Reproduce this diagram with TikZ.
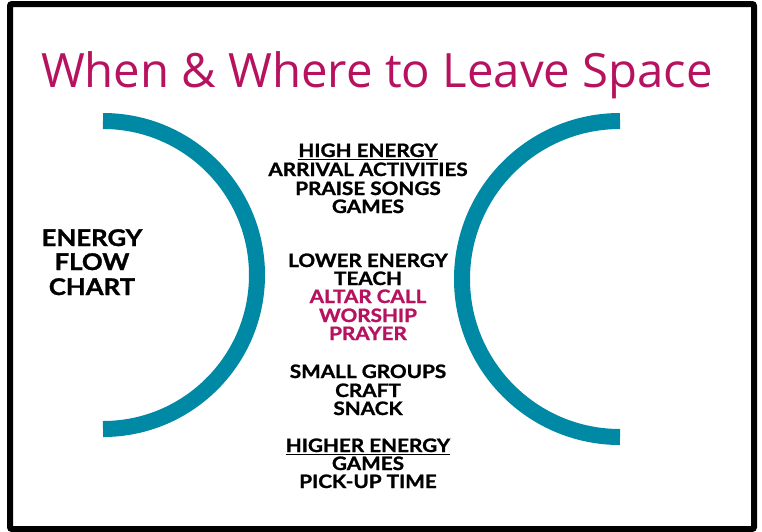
\documentclass[tikz,border=0pt]{standalone}
\usepackage{fontspec}
\setmainfont{Lato}[BoldFeatures={FakeStretch=1.12, FakeBold=1.2}]
\newfontfamily\titlefont{Open Sans}
\definecolor{teal}{RGB}{0,137,164}
\definecolor{berry}{RGB}{183,18,95}
\tikzset{
  line/.style={anchor=base, inner sep=0pt, font=\fontsize{18.5}{20}\selectfont\bfseries},
  side/.style={anchor=base, inner sep=0pt, font=\fontsize{23}{25}\selectfont\bfseries},
  bow/.style={draw=teal, line width=16pt},
  uline/.style={line width=1.3pt}
}
\begin{document}
\begin{tikzpicture}[x=1pt, y=-1pt]
      \useasboundingbox (0,0) rectangle (762,531);
      \fill[white] (0,0) rectangle (762,531);
      \draw[line width=6pt, rounded corners=2pt] (10,4) rectangle (754,529); % frame
      %
      \node[anchor=base, inner sep=0pt, text=berry, font=\titlefont\fontsize{47.3}{50}\selectfont]
        (title) at (377,87) {When \& Where to Leave Space};
      %
      \draw[bow] (103,121) arc[start angle=-90, end angle=90, radius=154];   % left bow
      \draw[bow] (620,121) arc[start angle=-90, end angle=-270, radius=158]; % right bow
      %
      \node[side] (energy) at (92,246) {ENERGY};   % left label
      \node[side] (flow)   at (92,270) {FLOW};
      \node[side] (chart)  at (92,295) {CHART};
      %
      \node[line] (high)    at (368,157) {HIGH ENERGY};          % first block
      \node[line] (arrival) at (368,176) {ARRIVAL ACTIVITIES};
      \node[line] (praise)  at (368,195) {PRAISE SONGS};
      \node[line] (gamesa)  at (368,213) {GAMES};
      \draw[uline] ([yshift=-2.5pt]high.base west) -- ([yshift=-2.5pt]high.base east);
      %
      \node[line] (lower)   at (368,267) {LOWER ENERGY};         % second block
      \node[line] (teach)   at (368,285) {TEACH};
      \node[line, text=berry] (altar)   at (368,303) {ALTAR CALL};
      \node[line, text=berry] (worship) at (368,322) {WORSHIP};
      \node[line, text=berry] (prayer)  at (368,340) {PRAYER};
      %
      \node[line] (small)   at (368,378) {SMALL GROUPS};         % third block
      \node[line] (craft)   at (368,397) {CRAFT};
      \node[line] (snack)   at (368,415) {SNACK};
      %
      \node[line] (higher)  at (368,452) {HIGHER ENERGY};        % last block
      \node[line] (gamesb)  at (368,470) {GAMES};
      \node[line] (pickup)  at (368,488) {PICK-UP TIME};
      \draw[uline] ([yshift=-2.5pt]higher.base west) -- ([yshift=-2.5pt]higher.base east);
      %
    \end{tikzpicture}
\end{document}
